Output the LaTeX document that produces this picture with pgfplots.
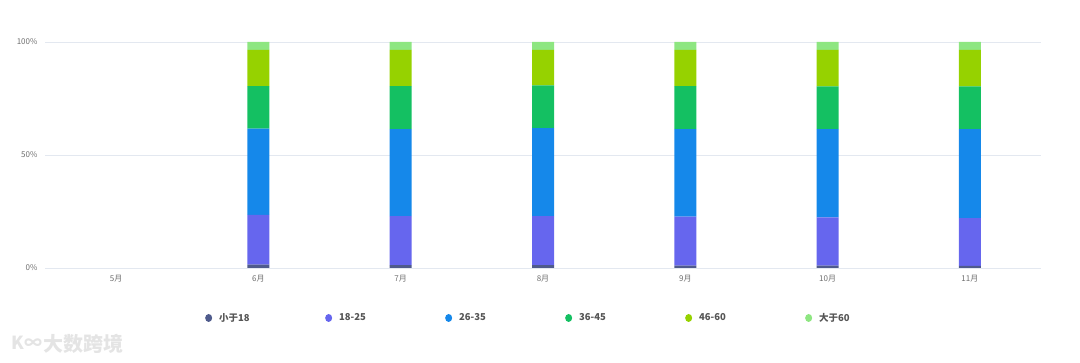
\documentclass[border=0pt]{standalone}
\usepackage{pgfplots}
\pgfplotsset{compat=1.18}
\usepackage{fontspec}
\setmainfont{Noto Sans CJK SC}
\definecolor{cA}{HTML}{4F5B8C}
\definecolor{cB}{HTML}{6666EE}
\definecolor{cC}{HTML}{1588EA}
\definecolor{cD}{HTML}{14C062}
\definecolor{cE}{HTML}{96D200}
\definecolor{cF}{HTML}{8EE681}
\definecolor{gridc}{HTML}{E3E8F0}
\definecolor{tickc}{HTML}{6E6E6E}
\definecolor{legc}{HTML}{555555}
\definecolor{wm}{HTML}{E4E4E4}
\pgfplotstableread{
x a b c d e f
0 0 0 0 0 0 0
1 1.5 22.0 38.2 18.8 16.0 3.5
2 1.3 21.7 38.5 19.0 16.0 3.5
3 1.3 21.7 38.9 18.9 15.7 3.5
4 1.0 21.7 38.8 19.0 16.0 3.5
5 1.0 21.4 39.1 18.9 16.1 3.5
6 0.9 21.2 39.4 18.9 16.1 3.5
}\datatable
\begin{document}
\begin{tikzpicture}
\path[use as bounding box] (0pt,0pt) rectangle (1080pt,363pt);
\node[wm, font=\bfseries\fontsize{20}{20}\selectfont, anchor=west] at (40pt,19pt) {大数跨境};
\node[wm, font=\bfseries\fontsize{18}{18}\selectfont, anchor=west] at (8pt,20pt) {K∞};
\begin{axis}[
  at={(45pt,95pt)}, anchor=south west,
  width=996pt, height=226pt, scale only axis,
  ybar stacked, bar width=22pt,
  xmin=-0.5, xmax=6.5, ymin=0, ymax=100,
  xtick={0,...,6},
  xticklabels={5月,6月,7月,8月,9月,10月,11月},
  ytick={0,50,100},
  yticklabel={\pgfmathprintnumber{\tick}\%},
  /pgf/number format/assume math mode=true,
  tick style={draw=none},
  axis line style={draw=none},
  ymajorgrids, grid style={gridc, line width=0.8pt},
  ticklabel style={tickc, font=\fontsize{8}{8}\selectfont},
  xticklabel style={yshift=-4pt},
  yticklabel style={xshift=-4pt},
  legend columns=6,
  legend style={draw=none, fill=none, at={(0.1606,-0.2212)}, anchor=west,
    font=\bfseries\fontsize{9.5}{10}\selectfont, text=legc, inner sep=0pt,
    /tikz/every odd column/.style={column sep=5pt},
    /tikz/every even column/.style={column sep=2pt}},
  legend image code/.code={\path[#1, draw=none] (4pt,0pt) ellipse (3.5pt and 4pt);},
]
\addplot[fill=cA, draw=none] table[x=x, y=a] {\datatable};
\addplot[fill=cB, draw=none] table[x=x, y=b] {\datatable};
\addplot[fill=cC, draw=none] table[x=x, y=c] {\datatable};
\addplot[fill=cD, draw=none] table[x=x, y=d] {\datatable};
\addplot[fill=cE, draw=none] table[x=x, y=e] {\datatable};
\addplot[fill=cF, draw=none] table[x=x, y=f] {\datatable};
\legend{\makebox[102pt][l]{小于18},\makebox[102pt][l]{18-25},\makebox[102pt][l]{26-35},\makebox[102pt][l]{36-45},\makebox[102pt][l]{46-60},大于60}
\end{axis}
\end{tikzpicture}
\end{document}
